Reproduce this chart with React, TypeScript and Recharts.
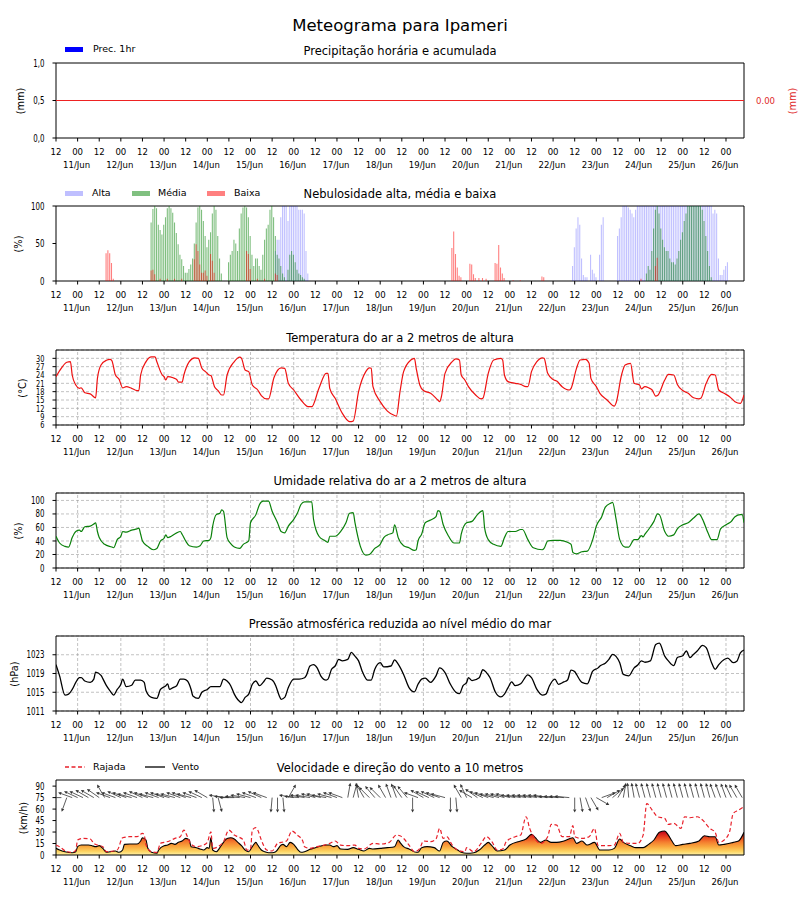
import React from 'react';
import { ComposedChart, Line, Area, Bar, Scatter, XAxis, YAxis, CartesianGrid, ReferenceArea, ReferenceLine } from 'recharts';

const FONT = '"DejaVu Sans Condensed", "DejaVu Sans", sans-serif';
const FONT_R = '"DejaVu Sans", sans-serif';
const X_DOMAIN = [0, 382];

const xTicks = [0, 12, 24, 36, 48, 60, 72, 84, 96, 108, 120, 132, 144, 156, 168, 180, 192, 204, 216, 228, 240, 252, 264, 276, 288, 300, 312, 324, 336, 348, 360, 372];
const gridHours = [12, 36, 60, 84, 108, 132, 156, 180, 204, 228, 252, 276, 300, 324, 348, 372];
const hourLabels = ['12', '00'];
const dayLabels = ['11/Jun', '12/Jun', '13/Jun', '14/Jun', '15/Jun', '16/Jun', '17/Jun', '18/Jun', '19/Jun', '20/Jun', '21/Jun', '22/Jun', '23/Jun', '24/Jun', '25/Jun', '26/Jun'];

// precipitation (all zero)
const precHours = [0, 24, 48, 72, 96, 120, 144, 168, 192, 216, 240, 264, 288, 312, 336, 360, 382];
const prec1h = [0, 0, 0, 0, 0, 0, 0, 0, 0, 0, 0, 0, 0, 0, 0, 0, 0];
const precAcc = [0, 0, 0, 0, 0, 0, 0, 0, 0, 0, 0, 0, 0, 0, 0, 0, 0];

// cloud cover [hour, %]
const cloudHigh = [[122,40],[123,55],[124,55],[125,85],[126,100],[127,100],[128,100],[129,80],[130,100],[131,100],[132,100],[133,100],[134,100],[135,95],[136,95],[137,95],[138,90],[139,40],[140,10],
[287,20],[288,45],[289,70],[290,85],[291,75],[292,30],[293,8],[294,5],[295,5],[297,35],[298,15],[299,10],[300,5],[302,35],[303,75],[304,85],
[312,60],[313,70],[314,85],[315,100],[316,100],[317,100],[318,98],[319,95],[320,90],[321,85],[322,95],[323,100],[324,100],[325,100],[326,100],[327,100],[328,100],[329,100],[330,100],[331,100],[332,100],[333,100],[334,100],[335,100],[336,100],[337,100],[338,100],[339,100],[340,100],[341,100],[342,100],[343,100],[344,100],[345,100],[346,100],[347,100],[348,100],[349,100],[350,100],[351,100],[352,100],[353,100],[354,100],[355,100],[356,100],[357,100],[358,100],[359,100],[360,100],[361,100],[362,100],[363,100],[364,100],[365,90],[366,95],[367,90],[368,30],[369,8],[370,8],[371,15],[372,20],[373,25]];
const cloudMid = [[53,78],[54,96],[55,100],[56,97],[57,75],[58,68],[59,62],[60,75],[61,85],[62,97],[63,100],[64,97],[65,91],[66,78],[67,64],[68,49],[69,35],[70,29],[71,20],[72,11],[73,11],[74,16],[75,22],[76,30],[77,50],[78,78],[79,98],[80,100],[81,95],[82,80],[83,60],[84,45],[85,55],[86,65],[87,90],[88,100],[89,95],[90,60],[91,30],[92,10],
[96,25],[97,35],[98,40],[99,55],[100,50],[101,40],[102,70],[103,90],[104,98],[105,100],[106,98],[107,85],[108,60],[109,35],[110,20],[111,30],[112,30],[113,20],[114,15],[115,35],[116,55],[117,70],[118,75],[119,95],[120,100],[121,85],[122,60],[123,35],[124,30],[125,20],[126,10],[127,5],[129,15],[130,35],[131,40],[132,35],[133,25],[134,15],[135,10],[136,8],[137,5],[138,3],
[328,10],[329,20],[330,15],[331,40],[332,70],[333,95],[334,100],[335,90],[336,70],[337,55],[338,45],[339,40],[340,40],[341,30],[342,25],[343,25],[344,22],[345,30],[346,40],[347,55],[348,65],[349,80],[350,90],[351,100],[352,100],[353,100],[354,100],[355,100],[356,100],[357,100],[358,100],[359,95],[360,80],[361,60],[362,40],[363,20],[364,5]];
const cloudLow = [[28,37],[29,41],[30,37],[31,24],[32,3],[53,14],[54,15],[55,9],[58,3],[62,3],[66,3],[70,3],[77,29],[78,49],[79,40],[80,22],[81,11],[82,11],[83,14],[84,7],[86,36],[87,27],[88,11],[106,40],[107,36],[108,16],[112,3],[116,3],[122,10],[123,8],
[220,44],[221,66],[222,36],[223,18],[224,7],[225,5],[230,23],[231,22],[232,9],[233,4],[235,4],[237,4],[239,3],[244,24],[245,23],[246,48],[247,18],[248,10],[249,4],[254,1],[258,1],[270,6],[271,5],[325,3],[333,20],[334,31]];

// temperature [hour, °C]
const tempPts = [[0,23.4],[3,26.5],[6,28.6],[8,28.8],[9,24],[11,20.4],[13,19.2],[14,19.4],[16,17.6],[19,17.2],[22,15.8],[23,22.8],[25,27.6],[28,29.3],[30,29.6],[31,29.2],[33,24],[35,22.5],[37,19.4],[39,19.8],[42,19.2],[45,18.4],[46,18.4],[47,24],[50,28.8],[53,30.5],[55,30.5],[56,28.8],[59,24],[60,23.4],[61,22.2],[62,23.4],[65,23],[67,22.4],[68,21.4],[70,21.4],[71,24],[74,28.8],[77,30.2],[79,30],[81,26.4],[83,25.2],[85,24],[86,23.8],[88,19.8],[90,18.4],[92,16.8],[93,16.8],[95,24],[99,28.8],[102,30.4],[103,30],[105,25.8],[107,25.2],[109,20.4],[112,18.6],[114,16.6],[117,15.4],[118,15.4],[121,23],[125,26.6],[127,26.4],[129,21],[132,18.6],[136,15],[140,12.6],[142,12.6],[146,19.2],[150,24.6],[151,24.6],[152,19.2],[155,15.6],[159,10.2],[163,7.2],[165,7.4],[168,18],[172,25.2],[174,26.6],[175,26.4],[176,19.8],[180,14.4],[184,11],[188,9.4],[189,9.2],[191,18],[193,25.2],[197,29.4],[199,30],[200,26.4],[202,20.4],[204,18.4],[208,17.4],[212,15],[213,14.4],[214,16.2],[216,24.6],[220,28.8],[222,29.8],[224,29.4],[225,24],[227,22.2],[229,19.8],[233,16.8],[236,15.4],[237,15.6],[240,24.6],[243,29.4],[247,30],[248,29.4],[249,24],[251,21.6],[255,21],[258,20.6],[261,19.8],[262,19.8],[264,25.2],[267,28.8],[270,30.2],[271,30],[273,24.6],[276,22.4],[278,21.8],[281,19.8],[285,18.6],[286,19.2],[289,26.4],[291,29.4],[294,29.6],[296,28.2],[297,22.8],[300,19.8],[302,17.4],[306,15],[310,12.8],[311,14],[314,24],[316,27.6],[319,28.2],[321,21],[324,20.4],[325,19],[327,19.8],[329,19.4],[331,18.6],[333,16.4],[334,16.6],[338,22.2],[340,24.2],[343,24],[345,20.6],[348,18.4],[351,17.4],[354,15.8],[357,15.4],[358,15.6],[361,21],[364,24.2],[366,24],[368,18.6],[371,17.4],[374,16.2],[377,14.4],[380,13.8],[382,16.8]];

// relative humidity [hour, %]
const humPts = [[0,47],[2,37],[5,32],[7,31],[9,45],[11,54],[13,56],[14,54],[16,61],[19,62],[21,65],[22,67],[23,54],[24,45],[27,35],[31,31],[32,30],[34,42],[36,47],[37,54],[39,53],[42,56],[45,58],[46,59],[47,50],[48,40],[51,32],[54,27],[56,29],[58,40],[60,44],[61,49],[62,45],[64,47],[67,52],[69,54],[70,50],[72,40],[74,33],[78,31],[80,33],[82,40],[85,41],[86,45],[87,62],[89,79],[91,81],[92,86],[93,84],[95,45],[97,36],[99,31],[102,29],[104,35],[107,40],[108,67],[111,79],[113,94],[115,99],[118,99],[120,84],[123,67],[125,54],[127,52],[129,62],[132,72],[134,81],[136,94],[138,98],[142,98],[143,72],[146,47],[149,41],[151,38],[152,47],[155,47],[158,54],[161,67],[163,81],[165,82],[166,67],[169,32],[172,19],[174,20],[177,29],[180,35],[182,45],[184,49],[187,52],[188,64],[190,45],[193,33],[196,30],[199,26],[200,27],[201,40],[203,50],[205,67],[208,71],[211,76],[212,85],[213,84],[215,64],[218,47],[221,37],[224,37],[225,50],[228,67],[231,69],[234,79],[237,85],[238,59],[240,42],[243,35],[247,32],[249,45],[251,54],[255,54],[258,57],[259,57],[262,42],[265,30],[270,27],[271,29],[273,40],[276,41],[280,41],[284,38],[286,35],[287,23],[289,21],[292,24],[295,25],[298,42],[300,62],[303,76],[305,90],[308,96],[309,97],[311,72],[313,42],[316,31],[318,31],[321,42],[323,42],[325,48],[326,46],[327,50],[329,57],[332,69],[334,80],[335,79],[338,54],[340,47],[343,49],[345,58],[348,64],[351,67],[354,74],[357,80],[359,72],[362,52],[364,42],[367,42],[369,58],[372,64],[375,69],[377,76],[380,79],[381,79],[382,67]];

// pressure [hour, hPa]
const presPts = [[0,1020.9],[2,1018.5],[5,1014.4],[7,1014.6],[9,1015.6],[11,1017.1],[13,1018.1],[14,1018.1],[16,1017.4],[19,1017.1],[21,1017.8],[22,1019.3],[25,1018.6],[26,1017.9],[28,1016.4],[30,1015.3],[32,1014.4],[34,1015.6],[36,1016.7],[37,1017.8],[39,1016.2],[42,1016.5],[44,1017.6],[47,1017.6],[49,1017.1],[50,1015.3],[53,1013.9],[56,1013.7],[58,1015.6],[61,1016.4],[62,1016.8],[63,1015.6],[65,1016],[67,1016.4],[69,1017.8],[71,1017.8],[73,1017.4],[75,1015.6],[76,1014.2],[79,1013.7],[81,1015],[84,1015.6],[86,1016.2],[91,1016.2],[93,1017.8],[95,1017.4],[97,1016.4],[99,1014.6],[101,1013.4],[103,1012.8],[105,1013.9],[107,1014.6],[109,1016.7],[111,1017.4],[113,1016.4],[115,1017.1],[117,1018],[120,1017.6],[122,1016.4],[124,1014.2],[125,1013.5],[127,1013.9],[129,1016],[132,1017.8],[135,1017.8],[138,1018.1],[139,1018.6],[141,1020.6],[143,1020.9],[145,1020.2],[147,1018.5],[150,1017.6],[151,1017.8],[153,1019.9],[155,1020.6],[157,1022],[159,1021.7],[162,1022],[164,1023.5],[166,1022.7],[168,1021.7],[170,1019.5],[173,1017.6],[175,1017.6],[177,1019.9],[180,1021.3],[182,1020.4],[186,1020.6],[188,1021.9],[190,1021],[193,1018.8],[196,1016],[199,1015.1],[201,1016.7],[203,1017.8],[205,1018],[208,1017.1],[211,1018.5],[213,1020.2],[216,1019.2],[219,1016.7],[222,1015],[224,1014.7],[226,1016.4],[228,1017.1],[229,1018.1],[231,1017.5],[235,1018.1],[237,1019.8],[239,1019.2],[241,1018.1],[244,1015],[247,1014],[249,1014.6],[251,1016],[253,1017.2],[255,1016.4],[258,1016.8],[262,1018.7],[264,1018.1],[267,1015.6],[270,1014.4],[272,1014.6],[274,1016.4],[277,1017.8],[279,1016.7],[282,1017.2],[284,1017.6],[286,1019.7],[288,1019.4],[289,1018.8],[292,1017.1],[295,1016.8],[298,1019.5],[301,1020.2],[302,1020.6],[305,1021.2],[307,1022],[309,1023.1],[313,1021.3],[315,1018.8],[318,1018.5],[321,1020.2],[323,1020.8],[325,1021.7],[327,1021.4],[330,1021.7],[333,1025.2],[335,1025.5],[338,1022.7],[340,1021.7],[343,1020.7],[345,1022.4],[348,1022.8],[350,1023.8],[352,1022.4],[354,1023.1],[356,1023.8],[359,1025],[361,1024.5],[364,1021.3],[366,1019.9],[368,1020.9],[371,1022],[373,1022.3],[376,1021.3],[378,1021.6],[380,1023.4],[382,1024]];

// wind speed and gust [hour, km/h]
const windPts = [[0,8.7],[2,6.5],[5,4.3],[9,3],[11,4.3],[12,10.9],[14,13],[18,13],[20,12.2],[22,10.9],[24,12.2],[26,8.7],[28,3.5],[30,4.3],[33,5.2],[35,3.5],[37,6.5],[38,13.9],[41,14.3],[45,14.3],[47,18.3],[48,22.6],[50,19.6],[51,8.7],[53,3.5],[56,2.2],[57,6.5],[60,12.2],[62,13],[64,15.2],[66,13.9],[68,16.5],[70,18.3],[72,21.7],[74,19.6],[75,10.9],[78,9.6],[80,7.8],[82,6.5],[84,9.6],[85,8.7],[86,22.6],[87,6.5],[89,4.3],[91,9.6],[93,16.5],[95,21.7],[97,22.6],[99,20.9],[101,16.5],[103,12.2],[105,6.5],[107,4.3],[109,10.9],[111,16.5],[112,13],[114,6.5],[116,4.3],[118,3],[120,3],[122,4.3],[125,13],[126,13.9],[128,10.9],[130,16.5],[132,13.9],[134,7.8],[136,3.5],[138,4.3],[141,7.4],[144,9.6],[147,11.7],[150,13],[152,13],[154,10.9],[156,12.2],[158,7.8],[162,7.4],[165,9.6],[168,7.4],[171,5.2],[174,8.7],[176,7.8],[180,8.7],[184,9.6],[188,10.9],[190,19.6],[191,16.5],[193,10.9],[196,7.8],[200,3.5],[201,3.5],[203,9.6],[206,10.9],[210,9.6],[213,5.2],[215,16.5],[217,18.3],[220,10.9],[223,6.5],[225,3.5],[228,2.2],[232,3],[235,6.5],[238,13],[240,16.5],[242,12.2],[245,5.2],[249,6.5],[252,13],[258,18.3],[261,20.9],[264,27],[266,23],[269,16.5],[272,19.6],[275,16.5],[278,16.5],[282,18.3],[287,22.6],[289,15.2],[292,18.3],[295,13],[299,16.5],[302,6.5],[307,6.5],[310,8.7],[313,20.9],[315,16.5],[319,12.2],[322,9.6],[326,9.6],[329,13.9],[332,19.6],[335,29.6],[338,31.3],[340,26],[342,18.3],[344,12.2],[348,13.9],[352,15.2],[357,18.3],[360,25.2],[363,23.9],[366,23.9],[368,13],[371,13.9],[376,16.5],[379,18.3],[382,29.6]];
const gustPts = [[0,13],[2,10.9],[6,4.3],[9,3.5],[11,6.5],[12,19.6],[15,21.7],[19,20.9],[21,15.2],[23,13],[26,10.9],[28,4.3],[34,6.5],[37,22.6],[41,23.9],[45,23.9],[48,28.3],[49,26],[50,13],[53,4.3],[56,3.5],[58,15.2],[60,16.5],[63,18.3],[66,21.7],[69,23.9],[71,32.6],[73,23.9],[75,13.9],[78,10.9],[81,12.2],[84,16.5],[86,30.4],[87,8.7],[90,10.9],[93,17.4],[96,32.6],[99,26],[101,23.9],[104,19.6],[106,6.5],[108,7.8],[109,32.6],[111,35.7],[112,32.6],[114,19.6],[117,6.5],[120,5.2],[123,15.2],[125,16.5],[128,18.3],[131,31.3],[134,26],[137,18.3],[138,10.9],[141,8.7],[145,10.9],[149,13],[152,15.2],[155,18.3],[158,13],[162,12.2],[166,13],[168,8.7],[171,7.8],[176,15.2],[180,14.3],[185,16.5],[189,26],[191,25.2],[193,21.7],[196,13],[199,4.3],[202,8.7],[204,18.3],[208,17.4],[211,20.9],[213,34.8],[215,21.7],[217,23.9],[220,13],[223,6.5],[227,4.3],[228,9.6],[232,4.3],[236,15.2],[239,23.9],[242,17.4],[245,6.5],[248,7.8],[250,17.4],[255,23.9],[258,26],[261,50],[263,34.8],[266,20.9],[269,15.2],[273,23.9],[275,40],[278,39],[281,23.9],[285,23.9],[287,38.3],[288,23.9],[292,21.7],[296,23.9],[299,34.8],[301,12.2],[307,12.2],[310,13],[313,28.3],[315,16.5],[319,15.2],[323,15.2],[326,26],[328,67],[331,58.7],[334,50],[338,47.8],[340,40],[343,41.3],[347,34.8],[349,50],[352,48.7],[356,50],[359,45.7],[363,34.8],[366,29.6],[368,16.5],[371,19.6],[374,30.4],[376,54.3],[379,58.7],[382,63]];

// wind direction arrows: hour and drawn arrow angle (deg, 0 = east, 90 = north)
const arrowHours = [0,3,6,9,12,15,18,21,24,27,30,33,36,39,42,45,48,51,54,57,60,63,66,69,72,75,78,81,84,87,90,93,96,99,102,105,108,111,114,117,120,123,126,129,132,135,138,141,144,147,150,153,156,159,162,165,168,171,174,177,180,183,186,189,192,195,198,201,204,207,210,213,216,219,222,225,228,231,234,237,240,243,246,249,252,255,258,261,264,267,270,273,276,279,282,285,288,291,294,297,300,303,306,309,312,315,318,321,324,327,330,333,336,339,342,345,348,351,354,357,360,363,366,369,372,375,378,381];
const arrowAngles = [175,180,250,160,155,155,150,150,145,120,160,160,155,160,165,160,155,160,165,160,160,165,165,160,160,165,160,155,150,275,285,170,175,180,175,170,165,160,155,160,265,270,275,60,170,175,170,170,165,165,170,165,160,160,80,75,100,120,135,130,135,120,110,110,125,130,270,160,150,155,155,160,165,270,275,120,115,150,145,155,160,165,165,165,165,170,170,170,170,170,170,170,175,175,175,175,270,280,290,300,330,20,30,40,60,80,95,100,105,105,105,105,105,105,105,105,105,105,105,105,105,105,110,110,110,115,120,120];

const ARROW_LEVEL = 75;

const toRows = (pts) => pts.map(([h, v]) => ({ h, v }));

const cloudTable = (() => {
  const m = new Map();
  const add = (pts, key) => pts.forEach(([h, v]) => { const r = m.get(h) || { h }; r[key] = v; m.set(h, r); });
  add(cloudHigh, 'alta'); add(cloudMid, 'media'); add(cloudLow, 'baixa');
  return Array.from(m.values()).sort((a, b) => a.h - b.h);
})();
const precTable = precHours.map((h, i) => ({ h, p: prec1h[i], acc: precAcc[i] }));
const arrowTable = arrowHours.map((h, i) => ({ h, y: ARROW_LEVEL, ang: arrowAngles[i] }));

const PLOT_H = 75;
const TOP_PAD = 10;
const AXIS_H = 36;
const CH_H = TOP_PAD + PLOT_H + AXIS_H;

function XTick(props) {
  const { x, y, payload } = props;
  const v = payload.value;
  const mid = v % 24 === 12;
  const day = mid ? dayLabels[(v - 12) / 24] : null;
  return (
    <g>
      <text x={x} y={y} dy={11} textAnchor="middle" fontSize={9.5} fontFamily={FONT} fill="#000">{mid ? hourLabels[1] : hourLabels[0]}</text>
      {day && <text x={x - 1} y={y} dy={24} textAnchor="middle" fontSize={9.5} fontFamily={FONT} fill="#000">{day}</text>}
    </g>
  );
}

function YTick(props) {
  const { x, y, payload, fmt, size } = props;
  const label = fmt ? fmt(payload.value) : String(payload.value);
  return (
    <text transform={`translate(${x},${y}) scale(0.8,1)`} x={0} y={0} dy="0.36em" textAnchor="end" fontSize={size || 9.8} fontFamily={FONT} fill="#000">{label}</text>
  );
}

function xAxis(id = 0, hide = false) {
  return (
    <XAxis key={'x' + id} xAxisId={id} dataKey="h" type="number" domain={X_DOMAIN} ticks={xTicks} allowDataOverflow
      hide={hide} height={AXIS_H} axisLine={false} tickSize={3.5} tickMargin={2} tickLine={{ stroke: '#000' }}
      tick={<XTick />} interval={0} />
  );
}

function yAxis(domain, ticks, fmt, size) {
  return (
    <YAxis yAxisId={0} type="number" domain={domain} ticks={ticks} allowDataOverflow width={56} axisLine={false}
      tickSize={3.5} tickMargin={8} tickLine={{ stroke: '#000' }} tick={<YTick fmt={fmt} size={size} />} interval={0} />
  );
}

function frame(domain, xId = 0) {
  return <ReferenceArea xAxisId={xId} yAxisId={0} x1={X_DOMAIN[0]} x2={X_DOMAIN[1]} y1={domain[0]} y2={domain[1]} fill="none" stroke="#000" strokeWidth={1} ifOverflow="visible" />;
}

function vGrid() {
  return gridHours.map((g) => <ReferenceLine key={'g' + g} xAxisId={0} yAxisId={0} x={g} stroke="#999" strokeWidth={0.6} strokeDasharray="3 2" />);
}

function ArrowShape(props) {
  const { cx, cy, payload } = props;
  if (cx == null || cy == null) return null;
  const a = (payload.ang * Math.PI) / 180;
  const L = 15;
  const ux = Math.cos(a), uy = -Math.sin(a);
  const x2 = cx + L * ux, y2 = cy + L * uy;
  const hl = 3.2, hw = 1.6;
  const bx = x2 - hl * ux, by = y2 - hl * uy;
  const px = -uy, py = ux;
  return (
    <g>
      <line x1={cx} y1={cy} x2={bx} y2={by} stroke="#333" strokeWidth={0.8} />
      <polygon points={`${x2},${y2} ${bx + hw * px},${by + hw * py} ${bx - hw * px},${by - hw * py}`} fill="#333" />
    </g>
  );
}

const PANELS = [63, 206, 350, 493, 636, 780];
const TITLES = ['Precipitação horária e acumulada', 'Nebulosidade alta, média e baixa', 'Temperatura do ar a 2 metros de altura', 'Umidade relativa do ar a 2 metros de altura', 'Pressão atmosférica reduzida ao nível médio do mar', 'Velocidade e direção do vento a 10 metros'];
const YLABELS = [['(mm)', 21], ['(%)', 19], ['(°C)', 23], ['(%)', 19], ['(hPa)', 15], ['(km/h)', 24]];

const textStyle = { position: 'absolute', fontFamily: FONT_R, color: '#000', whiteSpace: 'nowrap', lineHeight: 1 };

function Patch({ x, y, color }) {
  return <div style={{ position: 'absolute', left: x, top: y - 2.5, width: 18, height: 5, background: color }} />;
}
function LegText({ x, y, children }) {
  return <div style={{ ...textStyle, left: x, top: y - 5.5, fontSize: 9.5 }}>{children}</div>;
}

export default function App() {
  const chartProps = () => ({ width: 800, height: CH_H, margin: { top: TOP_PAD, right: 56, bottom: 0, left: 0 } });
  const wrap = (top) => ({ position: 'absolute', left: 0, top: top - TOP_PAD });
  return (
    <div style={{ position: 'absolute', left: 0, top: 0, width: 800, height: 900, background: '#fff', overflow: 'hidden' }}>
      <div style={{ ...textStyle, left: 0, width: 800, textAlign: 'center', top: 18, fontSize: 16.5 }}>Meteograma para Ipameri</div>

      {/* 1 precipitation */}
      <div style={wrap(PANELS[0])}>
        <ComposedChart width={800} height={CH_H} data={precTable} margin={{ top: TOP_PAD, right: 0, bottom: 0, left: 0 }}>
          {xAxis()}
          {yAxis([0, 1], [0, 0.5, 1], (v) => v.toFixed(1).replace('.', ','))}
          <YAxis yAxisId="acc" orientation="right" type="number" domain={[-0.05, 0.05]} ticks={[0]} width={56} axisLine={false}
            tickLine={false} tickSize={0} tickMargin={12} tick={{ fontSize: 9.5, fontFamily: FONT, fill: '#e02a2a' }} tickFormatter={(v) => v.toFixed(2)} />
          <Bar yAxisId={0} dataKey="p" fill="#0000ff" barSize={1.5} isAnimationActive={false} />
          <Line yAxisId="acc" dataKey="acc" stroke="#ee2222" strokeWidth={1.1} dot={false} isAnimationActive={false} />
          {frame([0, 1])}
        </ComposedChart>
      </div>

      {/* 2 clouds */}
      <div style={wrap(PANELS[1])}>
        <ComposedChart width={800} height={CH_H} data={cloudTable} margin={{ top: TOP_PAD, right: 56, bottom: 0, left: 0 }}>
          {xAxis(0)}
          <XAxis xAxisId="m" dataKey="h" type="number" domain={X_DOMAIN} hide allowDataOverflow />
          <XAxis xAxisId="b" dataKey="h" type="number" domain={X_DOMAIN} hide allowDataOverflow />
          {yAxis([0, 100], [0, 50, 100])}
          <Bar xAxisId={0} yAxisId={0} dataKey="alta" fill="#0000ff" fillOpacity={0.25} barSize={1.1} isAnimationActive={false} />
          <Bar xAxisId="m" yAxisId={0} dataKey="media" fill="#008000" fillOpacity={0.5} barSize={1.1} isAnimationActive={false} />
          <Bar xAxisId="b" yAxisId={0} dataKey="baixa" fill="#ff0000" fillOpacity={0.5} barSize={1.1} isAnimationActive={false} />
          {frame([0, 100])}
        </ComposedChart>
      </div>

      {/* 3 temperature */}
      <div style={wrap(PANELS[2])}>
        <ComposedChart {...chartProps()} data={toRows(tempPts)}>
          <CartesianGrid vertical={false} stroke="#999" strokeWidth={0.6} strokeDasharray="3 2" />
          {xAxis()}
          {yAxis([6, 33], [6, 9, 12, 15, 18, 21, 24, 27, 30], undefined, 9.2)}
          {vGrid()}
          <Line yAxisId={0} type="monotone" dataKey="v" stroke="#ee1111" strokeWidth={1.2} dot={false} isAnimationActive={false} />
          {frame([6, 33])}
        </ComposedChart>
      </div>

      {/* 4 humidity */}
      <div style={wrap(PANELS[3])}>
        <ComposedChart {...chartProps()} data={toRows(humPts)}>
          <CartesianGrid vertical={false} stroke="#999" strokeWidth={0.6} strokeDasharray="3 2" />
          {xAxis()}
          {yAxis([0, 111], [0, 20, 40, 60, 80, 100])}
          {vGrid()}
          <Line yAxisId={0} type="monotone" dataKey="v" stroke="#0a800a" strokeWidth={1.2} dot={false} isAnimationActive={false} />
          {frame([0, 111])}
        </ComposedChart>
      </div>

      {/* 5 pressure */}
      <div style={wrap(PANELS[4])}>
        <ComposedChart {...chartProps()} data={toRows(presPts)}>
          <CartesianGrid vertical={false} stroke="#999" strokeWidth={0.6} strokeDasharray="3 2" />
          {xAxis()}
          {yAxis([1011, 1027], [1011, 1015, 1019, 1023])}
          {vGrid()}
          <Line yAxisId={0} type="monotone" dataKey="v" stroke="#000" strokeWidth={1.3} dot={false} isAnimationActive={false} />
          {frame([1011, 1027])}
        </ComposedChart>
      </div>

      {/* 6 wind */}
      <div style={wrap(PANELS[5])}>
        <ComposedChart {...chartProps()}>
          <defs>
            <linearGradient id="windGrad" x1="0" y1="0" x2="0" y2="1">
              <stop offset="0" stopColor="#c0001c" />
              <stop offset="0.25" stopColor="#e8401e" />
              <stop offset="0.45" stopColor="#f47b2e" />
              <stop offset="0.65" stopColor="#f9a83e" />
              <stop offset="0.85" stopColor="#fdd462" />
              <stop offset="1" stopColor="#fff1a8" />
            </linearGradient>
          </defs>
          {xAxis()}
          {yAxis([0, 98], [0, 15, 30, 45, 60, 75, 90])}
          <Area yAxisId={0} data={toRows(windPts)} type="monotone" dataKey="v" stroke="#000" strokeWidth={1.1} fill="url(#windGrad)" fillOpacity={1} isAnimationActive={false} />
          <Line yAxisId={0} data={toRows(gustPts)} type="monotone" dataKey="v" stroke="#e8202a" strokeWidth={1.2} strokeDasharray="4 2.5" dot={false} isAnimationActive={false} />
          <Scatter yAxisId={0} data={arrowTable} dataKey="y" shape={<ArrowShape />} isAnimationActive={false} />
          {frame([0, 98])}
        </ComposedChart>
      </div>

      {/* titles */}
      {TITLES.map((t, i) => (
        <div key={t} style={{ ...textStyle, left: 56, width: 688, textAlign: 'center', top: PANELS[i] - 17, fontSize: 11.5 }}>{t}</div>
      ))}
      {YLABELS.map(([t, x], i) => (
        <div key={i} style={{ ...textStyle, left: x, top: PANELS[i] + PLOT_H / 2, fontSize: 9.8, transform: 'translate(-50%,-50%) rotate(-90deg)' }}>{t}</div>
      ))}
      <div style={{ ...textStyle, left: 793, top: PANELS[0] + PLOT_H / 2, fontSize: 9.8, color: '#e02a2a', transform: 'translate(-50%,-50%) rotate(-90deg)' }}>(mm)</div>

      {/* legends */}
      <Patch x={65} y={49.5} color="#0000ff" />
      <LegText x={93} y={49.5}>Prec. 1hr</LegText>

      <Patch x={65} y={193} color="#bfbfff" />
      <LegText x={92} y={193}>Alta</LegText>
      <Patch x={132} y={193} color="#80c080" />
      <LegText x={158} y={193}>Média</LegText>
      <Patch x={207} y={193} color="#ff8080" />
      <LegText x={234} y={193}>Baixa</LegText>

      <svg style={{ position: 'absolute', left: 60, top: 760 }} width={150} height={14}>
        <line x1={5} y1={7} x2={25} y2={7} stroke="#e8202a" strokeWidth={1.3} strokeDasharray="4 2.5" />
        <line x1={85} y1={7} x2={105} y2={7} stroke="#000" strokeWidth={1.3} />
      </svg>
      <LegText x={93} y={767}>Rajada</LegText>
      <LegText x={172} y={767}>Vento</LegText>
    </div>
  );
}
